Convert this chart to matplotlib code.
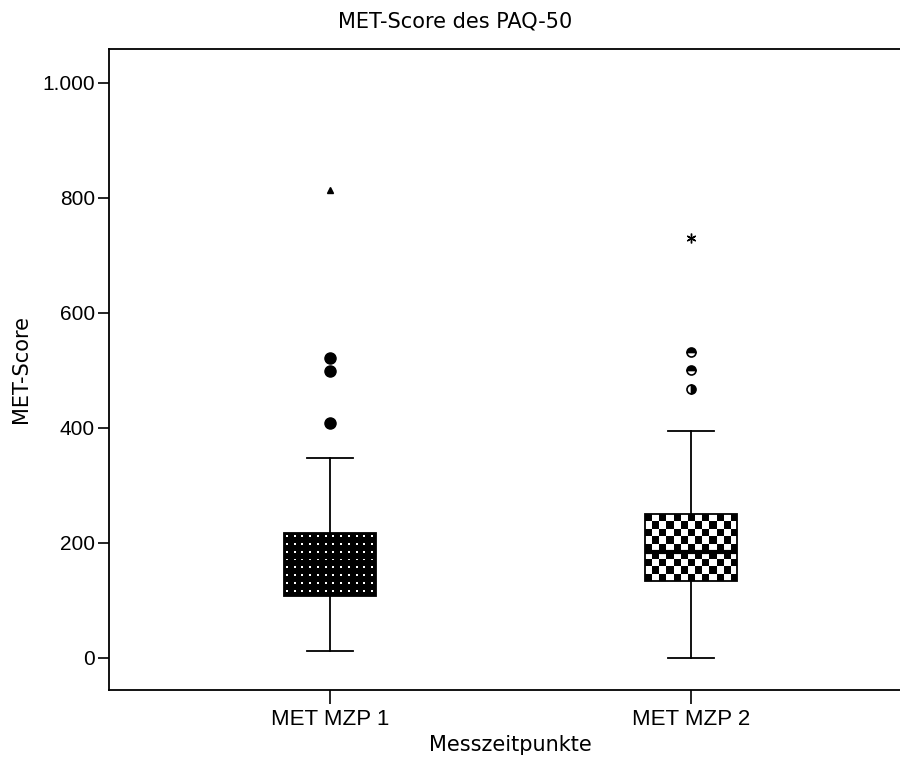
import numpy as np
import matplotlib
matplotlib.use("Agg")
import matplotlib.pyplot as plt
from matplotlib.ticker import FuncFormatter

plt.rcParams["font.family"] = ["Liberation Sans", "DejaVu Sans"]

labels = ["MET MZP 1", "MET MZP 2"]
q1 = [108, 134]
med = [167, 184]
q3 = [217, 250]
whis_lo = [12, 0]
whis_hi = [348, 395]
outliers_1 = [522, 499, 409]
outliers_2 = [532, 501, 468]
extreme_1 = [814]
extreme_2 = [730]
yticks = [0, 200, 400, 600, 800, 1000]

fig = plt.figure(figsize=(9, 7.57), dpi=100)
ax = fig.add_axes([0.1211, 0.0885, 0.892, 0.8468])

pos = [1, 2]
width = 0.255
stats = []
for i in range(2):
    stats.append({"med": med[i], "q1": q1[i], "q3": q3[i],
                  "whislo": whis_lo[i], "whishi": whis_hi[i], "fliers": []})

bp = ax.bxp(stats, positions=pos, widths=width, patch_artist=True,
            showfliers=False,
            boxprops=dict(linewidth=1.3, edgecolor="black"),
            whiskerprops=dict(linewidth=1.3, color="black"),
            capprops=dict(linewidth=1.3, color="black"),
            medianprops=dict(linewidth=3, color="black"),
            capwidths=width * 0.5)

# Muster: Punkte (MZP 1), Schachbrett (MZP 2)
dots = np.zeros((8 * 4, 12 * 4))
dots[1::4, 1::4] = 1
dots = np.kron(dots, np.ones((4, 4)))
ext1 = [pos[0] - width / 2, pos[0] + width / 2, q1[0], q3[0]]
im1 = ax.imshow(dots, cmap="gray", vmin=0, vmax=1, extent=ext1,
                aspect="auto", interpolation="nearest", zorder=2.5)
im1.set_clip_path(bp["boxes"][0])

checker = (np.add.outer(np.arange(9), np.arange(13)) % 2).astype(float)
checker = np.kron(checker, np.ones((16, 16)))
ext2 = [pos[1] - width / 2, pos[1] + width / 2, q1[1], q3[1]]
im2 = ax.imshow(checker, cmap="gray", vmin=0, vmax=1, extent=ext2,
                aspect="auto", interpolation="nearest", zorder=2.5)
im2.set_clip_path(bp["boxes"][1])

for line in bp["medians"]:
    line.set_zorder(3)
for b in bp["boxes"]:
    b.set_zorder(3)
    b.set_facecolor("none")

# Ausreißer
ax.plot([pos[0]] * len(outliers_1), outliers_1, "o", color="black",
        markersize=8, zorder=4)
ax.plot([pos[0]] * len(extreme_1), extreme_1, "^", color="black",
        markersize=5, zorder=4)
for v, fs in zip(outliers_2, ["top", "top", "right"]):
    ax.plot([pos[1]], [v], "o", markersize=6.5, markerfacecolor="black",
            markerfacecoloralt="white", markeredgecolor="black",
            markeredgewidth=1.2, fillstyle=fs, zorder=4)
ax.plot([pos[1]] * len(extreme_2), extreme_2, marker=(6, 2, 0),
        color="black", markersize=7, linestyle="none", zorder=4)

ax.set_xlim(0.388, 2.612)
ax.set_ylim(-56, 1059)
ax.set_xticks(pos)
ax.set_xticklabels(labels, fontsize=16)
ax.set_yticks(yticks)
ax.yaxis.set_major_formatter(FuncFormatter(lambda v, p: f"{int(v):,}".replace(",", ".")))
ax.tick_params(axis="y", labelsize=15, length=8, width=1.2, direction="out", pad=2)
ax.tick_params(axis="x", length=10, width=1.2, direction="out", pad=4)

for s in ["left", "bottom", "top"]:
    ax.spines[s].set_linewidth(1.3)
ax.spines["right"].set_visible(False)

lab_font = ["DejaVu Sans"]
ax.set_ylabel("MET-Score", fontsize=15, family=lab_font, labelpad=8)
ax.set_xlabel("Messzeitpunkte", fontsize=15, family=lab_font, labelpad=3)
fig.text(0.506, 0.972, "MET-Score des PAQ-50", fontsize=15, family=lab_font,
         ha="center", va="center")

fig.savefig("out.png", dpi=100)
